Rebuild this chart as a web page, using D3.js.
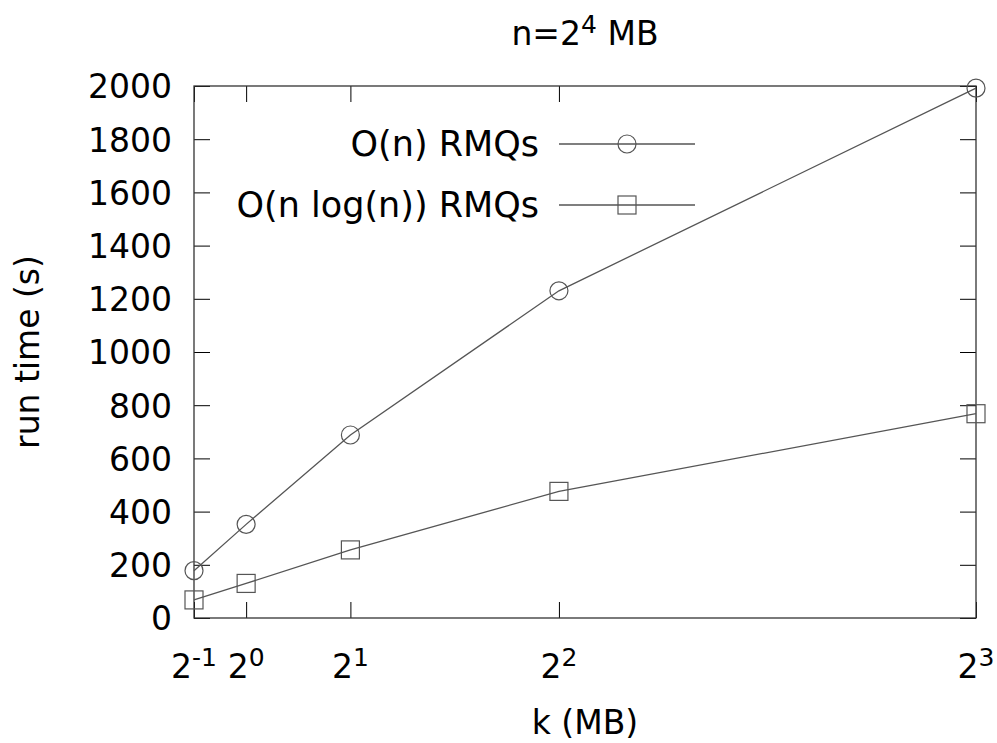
<!DOCTYPE html>
<html>
<head>
<meta charset="utf-8">
<title>run time</title>
<script src="https://d3js.org/d3.v7.min.js"></script>
<style>
  body { margin: 0; background: #fff; }
  svg text { font-family: "DejaVu Sans", Verdana, sans-serif; fill: #000; }
</style>
</head>
<body>
<svg id="chart" width="997" height="743"></svg>
<script>
// Data
const kValues = [0.5, 1, 2, 4, 8];
const kExponents = ["-1", "0", "1", "2", "3"];
const linearRmq = [178, 352, 688, 1230, 1992];
const nlognRmq = [68, 130, 256, 476, 768];
const seriesNames = ["O(n) RMQs", "O(n log(n)) RMQs"];
const yTicks = [0, 200, 400, 600, 800, 1000, 1200, 1400, 1600, 1800, 2000];

const svg = d3.select("#chart");
const margin = {left: 194, right: 21, top: 86, bottom: 125};
const width = 997 - margin.left - margin.right;
const height = 743 - margin.top - margin.bottom;

const x = d3.scaleLinear().domain([0.5, 8]).range([0, width]);
const y = d3.scaleLinear().domain([0, 2000]).range([height, 0]);

const g = svg.append("g")
    .attr("transform", "translate(" + margin.left + "," + margin.top + ")");

const fontSize = 33;
const tickLen = 16;
const lineColor = "#555";

// Ticks on all four sides, pointing inward
const yAxis = g.append("g")
    .call(d3.axisLeft(y).tickValues(yTicks).tickFormat(d3.format("d"))
      .tickSizeInner(-tickLen).tickSizeOuter(0).tickPadding(22));
const yAxisRight = g.append("g")
    .attr("transform", "translate(" + width + ",0)")
    .call(d3.axisRight(y).tickValues(yTicks).tickSizeInner(-tickLen).tickSizeOuter(0).tickFormat(""));
const xAxis = g.append("g")
    .attr("transform", "translate(0," + height + ")")
    .call(d3.axisBottom(x).tickValues(kValues).tickSizeInner(-tickLen).tickSizeOuter(0).tickFormat(""));
const xAxisTop = g.append("g")
    .call(d3.axisTop(x).tickValues(kValues).tickSizeInner(-tickLen).tickSizeOuter(0).tickFormat(""));

[yAxis, yAxisRight, xAxis, xAxisTop].forEach(a => {
  a.select(".domain").remove();
  a.selectAll("line").attr("stroke", "#000").attr("stroke-width", 1);
});

yAxis.selectAll("text")
    .style("font-size", fontSize + "px")
    .style("font-family", "'DejaVu Sans', Verdana, sans-serif")
    .attr("dy", "0.36em")
    .attr("fill", "#000");

// Frame
g.append("rect")
    .attr("width", width)
    .attr("height", height)
    .attr("fill", "none")
    .attr("stroke", "#333")
    .attr("stroke-width", 1.3);

// X tick labels as powers of two
const xLabels = g.append("g").selectAll("text")
    .data(kValues)
  .enter().append("text")
    .attr("x", d => x(d))
    .attr("y", height + 60)
    .attr("text-anchor", "middle")
    .style("font-size", fontSize + "px");

xLabels.append("tspan").text("2");
xLabels.append("tspan")
    .attr("dy", -12)
    .style("font-size", "25px")
    .text((d, i) => kExponents[i]);

// Series
const series = [
  {name: seriesNames[0], values: linearRmq, symbol: "circle"},
  {name: seriesNames[1], values: nlognRmq, symbol: "square"}
];

const line = d3.line()
    .x(d => x(d[0]))
    .y(d => y(d[1]));

function drawMarker(sel, symbol) {
  if (symbol === "circle") {
    sel.append("circle")
        .attr("r", 9)
        .attr("fill", "none")
        .attr("stroke", lineColor)
        .attr("stroke-width", 1.2);
  } else {
    sel.append("rect")
        .attr("x", -9).attr("y", -9)
        .attr("width", 18).attr("height", 18)
        .attr("fill", "none")
        .attr("stroke", lineColor)
        .attr("stroke-width", 1.2);
  }
}

series.forEach(s => {
  const pts = kValues.map((k, i) => [k, s.values[i]]);
  g.append("path")
      .datum(pts)
      .attr("d", line)
      .attr("fill", "none")
      .attr("stroke", lineColor)
      .attr("stroke-width", 1.3);

  g.append("g").selectAll("g")
      .data(pts)
    .enter().append("g")
      .attr("transform", d => "translate(" + x(d[0]) + "," + y(d[1]) + ")")
      .each(function() { drawMarker(d3.select(this), s.symbol); });
});

// Legend
const legend = svg.append("g");
series.forEach((s, i) => {
  const ly = 144 + i * 61;
  legend.append("text")
      .attr("x", 539)
      .attr("y", ly + 12)
      .attr("text-anchor", "end")
      .style("font-size", "35px")
      .text(s.name);
  legend.append("line")
      .attr("x1", 559).attr("x2", 695)
      .attr("y1", ly).attr("y2", ly)
      .attr("stroke", lineColor)
      .attr("stroke-width", 1.3);
  const m = legend.append("g").attr("transform", "translate(627," + ly + ")");
  drawMarker(m, s.symbol);
});

// Title
const title = svg.append("text")
    .attr("x", 585)
    .attr("y", 45)
    .attr("text-anchor", "middle")
    .style("font-size", fontSize + "px");
title.append("tspan").text("n=2");
title.append("tspan").attr("dy", -12).style("font-size", "25px").text("4");
title.append("tspan").attr("dy", 12).text(" MB");

// Axis titles
svg.append("text")
    .attr("x", 585)
    .attr("y", 734)
    .attr("text-anchor", "middle")
    .style("font-size", fontSize + "px")
    .text("k (MB)");

svg.append("text")
    .attr("transform", "translate(39,352)rotate(-90)")
    .attr("text-anchor", "middle")
    .style("font-size", fontSize + "px")
    .text("run time (s)");
</script>
</body>
</html>
